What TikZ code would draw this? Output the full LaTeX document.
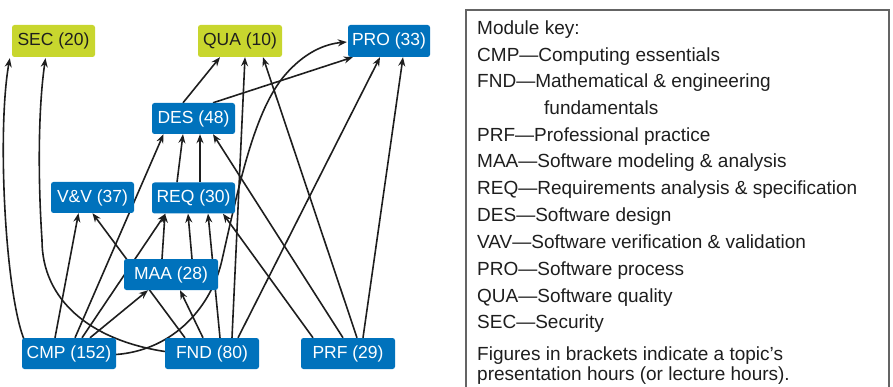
\documentclass[tikz,border=0pt]{standalone}
\usepackage{fontspec}
\setmainfont{Liberation Sans}
\usetikzlibrary{arrows.meta,calc}
\pgfdeclarelayer{bg}
\pgfsetlayers{bg,main}
\definecolor{nodeblue}{RGB}{0,114,188}
\definecolor{limeg}{RGB}{200,214,46}
\definecolor{ink}{RGB}{30,30,30}
\definecolor{framec}{RGB}{100,100,100}
\begin{document}
\begin{tikzpicture}[x=1pt,y=-1pt,
  mod/.style={rounded corners=2.5pt, inner sep=0pt, minimum height=31pt, font=\fontsize{17.5}{20}\selectfont},
  bluemod/.style={mod, fill=nodeblue, text=white},
  limemod/.style={mod, fill=limeg, text=ink},
  dep/.style={draw=ink, line width=1.6pt, -{Stealth[length=9pt,width=7pt]}},
  keytext/.style={anchor=base west, inner sep=0pt, font=\fontsize{19}{22}\selectfont, text=ink}]
\useasboundingbox (0,0) rectangle (893,387);

% modules
\node[limemod, minimum width=83pt, minimum height=32pt] (SEC) at (53.5,41) {SEC (20)};
\node[limemod, minimum width=84pt, minimum height=32pt] (QUA) at (240,41) {QUA (10)};
\node[bluemod, minimum width=82pt, minimum height=32pt] (PRO) at (389,41) {PRO (33)};
\node[bluemod, minimum width=83pt] (DES) at (193.5,118.5) {DES (48)};
\node[bluemod, minimum width=83pt] (VV) at (92.5,197.5) {V\&V (37)};
\node[bluemod, minimum width=83pt] (REQ) at (193.5,198) {REQ (30)};
\node[bluemod, minimum width=94pt] (MAA) at (171,274.5) {MAA (28)};
\node[bluemod, minimum width=94pt] (CMP) at (69,353.5) {CMP (152)};
\node[bluemod, minimum width=94pt] (FND) at (212,353.5) {FND (80)};
\node[bluemod, minimum width=94pt] (PRF) at (348,353.5) {PRF (29)};

\begin{pgfonlayer}{bg}
% to SEC
\draw[dep] ($(CMP.north west)+(2,1)$) .. controls (5,290) and (-3,130) .. ($(SEC.south west)+(-2,1)$);
\draw[dep] ($(FND.west)+(0,-2)$) .. controls (90,340) and (42,300) .. (42,240) .. controls (38,180) and (38,110) .. ($(SEC.south)+(-8,1)$);
% from CMP
\draw[dep] ($(CMP.north)+(-14,0)$) -- ($(VV.south)+(-14,0)$);
\draw[dep] ($(CMP.north)+(6,0)$) -- ($(DES.south)+(-30,0)$);
\draw[dep] ($(CMP.north)+(13,0)$) -- ($(REQ.south)+(-28,0)$);
\draw[dep] ($(CMP.north)+(21,0)$) -- ($(MAA.south)+(-23,0)$);
\draw[dep] ($(CMP.east)+(0,1)$) .. controls (175,350) and (212,305) .. (222,260) .. controls (240,180) and (255,110) .. (285,75) .. controls (305,52) and (325,44) .. ($(PRO.west)+(-1,1)$);
% from FND
\draw[dep] ($(FND.north)+(-27,0)$) -- (VV.south);
\draw[dep] ($(FND.north)+(-9,0)$) -- ($(MAA.south)+(9,0)$);
\draw[dep] ($(FND.north)+(8,0)$) -- ($(REQ.south)+(14.5,0)$);
\draw[dep] ($(FND.north)+(20,0)$) -- ($(QUA.south)+(5,0)$);
\draw[dep] ($(FND.north)+(26,0)$) -- ($(PRO.south)+(-9,0)$);
% from MAA
\draw[dep] ($(MAA.north)+(-9,0)$) -- ($(REQ.south)+(-28.5,0)$);
\draw[dep] ($(MAA.north)+(21,0)$) -- ($(REQ.south)+(-5.5,0)$);
% from REQ
\draw[dep] ($(REQ.north)+(-16.5,0)$) -- ($(DES.south)+(-10.5,0)$);
\draw[dep] ($(REQ.north)+(6.5,0)$) -- ($(DES.south)+(6.5,0)$);
% from PRF
\draw[dep] ($(PRF.north)+(-5,0)$) -- ($(DES.south)+(19.5,0)$);
\draw[dep] ($(PRF.north)+(-35,0)$) -- ($(REQ.south)+(29.5,0)$);
\draw[dep] ($(PRF.north)+(9,0)$) -- ($(QUA.south)+(23,0)$);
\draw[dep] ($(PRF.north)+(15,0)$) -- ($(PRO.south)+(14,0)$);
% from DES
\draw[dep] ($(DES.north)+(-10.5,0)$) -- ($(QUA.south)+(-20,0)$);
\draw[dep] ($(DES.north)+(19.5,0)$) -- ($(PRO.south west)+(5,0)$);
\end{pgfonlayer}

% key
\begin{scope}
\clip (0,0) rectangle (893,387);
\draw[draw=framec, line width=1.4pt] (466,10) rectangle (889,400);
\end{scope}
\node[keytext] (k0) at (477,35) {Module key:};
\node[keytext] (k1) at (477,62) {CMP—Computing essentials};
\node[keytext] (k2) at (477,88) {FND—Mathematical \& engineering};
\node[keytext] (k2b) at (544,115) {fundamentals};
\node[keytext] (k3) at (477,142) {PRF—Professional practice};
\node[keytext] (k4) at (477,168) {MAA—Software modeling \& analysis};
\node[keytext] (k5) at (477,195) {REQ—Requirements analysis \& specification};
\node[keytext] (k6) at (477,222) {DES—Software design};
\node[keytext] (k7) at (477,248) {VAV—Software verification \& validation};
\node[keytext] (k8) at (477,275) {PRO—Software process};
\node[keytext] (k9) at (477,302) {QUA—Software quality};
\node[keytext] (k10) at (477,328) {SEC—Security};
\node[keytext] (k11) at (477,360) {Figures in brackets indicate a topic’s};
\node[keytext] (k12) at (477,380) {presentation hours (or lecture hours).};
\end{tikzpicture}
\end{document}
